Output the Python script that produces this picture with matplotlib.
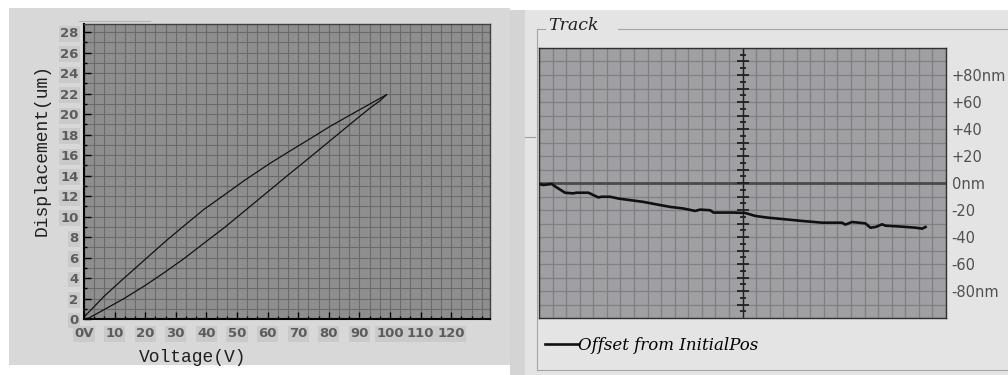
import numpy as np
from matplotlib import pyplot as plt
from matplotlib.patches import Rectangle
from matplotlib.lines import Line2D

# piezo hysteresis: rising (lower) branch and falling (upper) branch
volt_up = [0, 1.6, 6.5, 13.1, 19.6, 26.1, 32.7, 39.2, 45.8, 52.3, 60.8, 67.3, 73.9, 80.4, 86.9, 93.5, 96.7, 98.9]
disp_up = [0, 0.1, 0.9, 2.0, 3.2, 4.5, 5.9, 7.4, 8.9, 10.5, 12.6, 14.2, 15.8, 17.4, 19.0, 20.6, 21.3, 21.9]
volt_down = [98.9, 93.5, 86.9, 80.4, 73.9, 67.3, 60.8, 52.3, 45.8, 39.2, 32.7, 26.7, 21.8, 16.9, 12.0, 6.5, 3.3, 0]
disp_down = [21.9, 21.0, 19.9, 18.8, 17.6, 16.4, 15.2, 13.5, 12.1, 10.7, 9.1, 7.6, 6.3, 5.0, 3.7, 2.2, 1.2, 0.2]

volt_ticks = [0, 10, 20, 30, 40, 50, 60, 70, 80, 90, 100, 110, 120]
volt_labels = ['0V', '10', '20', '30', '40', '50', '60', '70', '80', '90', '100', '110', '120']
disp_ticks = list(range(0, 29, 2))

# track: offset from initial position (nm) vs time (grid cells)
track_t = [0, 0.32, 0.94, 1.18, 1.92, 2.53, 2.75, 3.64, 4.38, 4.6, 5.24, 5.85, 6.72, 7.70, 8.69, 9.67,
           10.65, 11.51, 11.88, 12.62, 12.86, 14.34, 15.2, 15.94, 16.8, 18.15, 19.39, 20.86, 22.34,
           22.58, 23.08, 24.06, 24.43, 24.8, 25.29, 25.54, 26.4, 27.75, 28.24, 28.49]
track_nm = [-0.8, -1.5, -0.7, -2.5, -7.2, -7.7, -7.2, -7.2, -10.7, -10.2, -10.2, -11.5, -12.7, -14.0,
            -15.9, -17.7, -18.9, -20.7, -19.7, -20.2, -21.9, -21.9, -22.2, -24.4, -25.6, -26.9, -28.1,
            -29.4, -29.4, -30.8, -28.9, -29.9, -33.1, -32.6, -30.6, -31.6, -32.1, -33.1, -33.8, -32.6]
track_ticks = [80, 60, 40, 20, 0, -20, -40, -60, -80]
track_labels = ['+80nm', '+60', '+40', '+20', '0nm', '-20', '-40', '-60', '-80nm']

W, H = 1008, 375


def fig_box(x0, y0, x1, y1):
    # pixel box (top-left origin) -> figure fraction [left, bottom, width, height]
    return [x0 / W, 1 - y1 / H, (x1 - x0) / W, (y1 - y0) / H]


fig = plt.figure(figsize=(W / 100, H / 100), dpi=100)
fig.patch.set_facecolor('white')

# panel backgrounds
for (x0, y0, x1, y1), col in [((9, 8, 510, 365), '#d8d8d8'), ((510, 10, 525, 375), '#d4d4d4'),
                               ((525, 10, 1008, 375), '#e4e4e4')]:
    b = fig_box(x0, y0, x1, y1)
    fig.add_artist(Rectangle((b[0], b[1]), b[2], b[3], transform=fig.transFigure,
                             facecolor=col, edgecolor='none', zorder=-5))


def fig_line(xs, ys, color='#a4a4a4', lw=0.8):
    fig.add_artist(Line2D([x / W for x in xs], [1 - y / H for y in ys], color=color, lw=lw, zorder=-4))


fig_line([79, 150], [21, 21], color='#b4b4b4')
fig_line([525, 535], [137, 137], color='#a0a0a0')
# group box "Track"
fig_line([537, 537], [29, 370])
fig_line([537, 1008], [370, 370])
fig_line([537, 545], [29, 29])
fig_line([618, 1008], [29, 29])
fig.text(548 / W, 1 - 25 / H, 'Track', family='DejaVu Serif', style='italic', fontsize=12.5,
         ha='left', va='center', color='#202020')

# ---- left: displacement vs voltage ----
ax = fig.add_axes(fig_box(84, 24, 490, 319))
ax.set_facecolor('#8e8e8e')
ax.plot(volt_up, disp_up, color='#111111', lw=0.9)
ax.plot(volt_down, disp_down, color='#111111', lw=0.9)
ax.set_xlim(0, 132.7)
ax.set_ylim(0, 28.8)
ax.set_xticks(volt_ticks)
ax.set_xticklabels(volt_labels)
ax.set_xticks(np.arange(0, 133, 10 / 3), minor=True)
ax.set_yticks(disp_ticks)
ax.set_yticks(np.arange(0, 29, 1), minor=True)
ax.grid(which='both', color='#6a6a6a', lw=0.8)
ax.set_axisbelow(True)
ax.tick_params(which='major', direction='in', length=5, width=1, color='black')
ax.tick_params(which='minor', direction='in', length=2.5, width=1, color='black')
ax.tick_params(axis='x', pad=6)
ax.tick_params(axis='y', pad=4)
for lab in ax.get_xticklabels() + ax.get_yticklabels():
    lab.set_fontsize(9.5)
    lab.set_fontweight('bold')
    lab.set_color('#5c5c5c')
    lab.set_bbox(dict(facecolor='#cacaca', edgecolor='none', pad=1))
for s in ['left', 'bottom']:
    ax.spines[s].set_color('black')
    ax.spines[s].set_linewidth(1.5)
for s in ['top', 'right']:
    ax.spines[s].set_color('#404040')
    ax.spines[s].set_linewidth(1)
ax.set_xlabel('Voltage(V)', family='Liberation Mono', fontsize=13, color='#202020')
ax.set_ylabel('Displacement(um)', family='Liberation Mono', fontsize=13, color='#202020')
ax.xaxis.set_label_coords(0.268, -0.1)
ax.yaxis.set_label_coords(-0.083, 0.573)

# ---- right: track ----
ax2 = fig.add_axes(fig_box(539, 48, 946, 318))
ax2.set_facecolor('#a0a0a4')
ax2.set_xlim(0, 30)
ax2.set_ylim(-100, 100)
ax2.set_xticks(np.arange(0, 31, 1))
ax2.set_xticklabels([])
ax2.set_yticks(track_ticks)
ax2.set_yticklabels(track_labels)
ax2.set_yticks(np.arange(-100, 101, 10), minor=True)
ax2.grid(which='both', color='#808080', lw=0.9)
ax2.set_axisbelow(True)
ax2.yaxis.tick_right()
ax2.tick_params(which='both', length=0)
ax2.tick_params(axis='y', pad=4, labelsize=10.5, labelcolor='#505050')
for s in ax2.spines.values():
    s.set_color('#303030')
    s.set_linewidth(1)

ax2.axhline(0, color='#4a4a4a', lw=2, zorder=2)
ax2.axvline(15, color='#202020', lw=1, zorder=2)
long_ticks = np.arange(-90, 91, 10)
short_ticks = np.arange(-95, 96, 10)
ax2.plot([15] * len(long_ticks), long_ticks, ls='none', marker='_', ms=8, mew=1.3, color='#202020', zorder=2)
ax2.plot([15] * len(short_ticks), short_ticks, ls='none', marker='_', ms=4.5, mew=1.3, color='#202020', zorder=2)

ax2.plot(track_t, track_nm, color='#101010', lw=1.9, zorder=3, label='Offset from InitialPos')
ax2.legend(loc='center left', bbox_to_anchor=(545 / W, 1 - 345 / H), bbox_transform=fig.transFigure,
           frameon=False, handlelength=2.0, handletextpad=0.0, borderpad=0, borderaxespad=0,
           prop=dict(family='DejaVu Serif', style='italic', size=12))

plt.savefig('out.png', dpi=100)
